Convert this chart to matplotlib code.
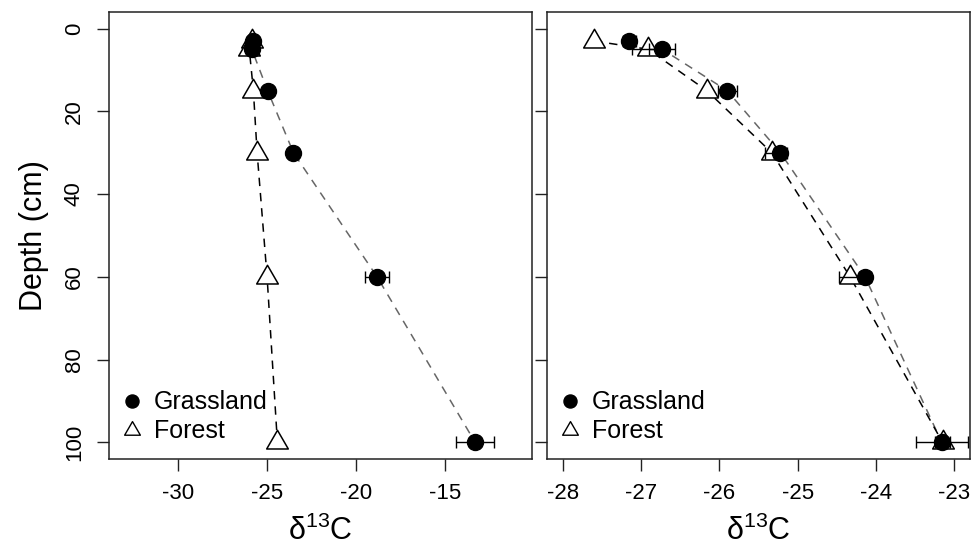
import numpy as np
import matplotlib
matplotlib.use("Agg")
import matplotlib.pyplot as plt
from matplotlib.lines import Line2D
from matplotlib.path import Path

plt.rcParams["font.family"] = ["Liberation Sans", "DejaVu Sans"]
plt.rcParams["mathtext.fontset"] = "custom"
plt.rcParams["mathtext.rm"] = "Liberation Sans"
plt.rcParams["mathtext.it"] = "Liberation Sans:italic"
plt.rcParams["axes.unicode_minus"] = False

# depth of each sample (cm)
depth = [3, 5, 15, 30, 60, 100]

# left panel
grass_a = [-25.77, -25.86, -24.97, -23.52, -18.82, -13.31]
grass_a_err = [0.2, 0.2, 0.2, 0.25, 0.68, 1.07]
forest_a = [-25.86, -26.0, -25.77, -25.56, -25.0, -24.42]
forest_a_err = [0, 0, 0, 0, 0, 0]

# right panel
grass_b = [-27.15, -26.73, -25.90, -25.22, -24.14, -23.16]
grass_b_err = [0.08, 0.17, 0.12, 0.08, 0.08, 0.33]
forest_b = [-27.60, -26.91, -26.16, -25.33, -24.33, -23.15]
forest_b_err = [0, 0.2, 0, 0.09, 0.14, 0.1]

panels = [
    (grass_a, grass_a_err, forest_a, forest_a_err, (-33, -11), [-30, -25, -20, -15]),
    (grass_b, grass_b_err, forest_b, forest_b_err, (-28, -23), [-28, -27, -26, -25, -24, -23]),
]

# R-like open triangle (equilateral, closed path)
tri = Path([(-1, -0.6), (1, -0.6), (0, 1.13), (-1, -0.6)],
           [Path.MOVETO, Path.LINETO, Path.LINETO, Path.CLOSEPOLY])

fig = plt.figure(figsize=(9.74, 5.47), dpi=100)
lefts = [109 / 974, 547 / 974]
W = 423 / 974
B = 1 - 459 / 547
H = 447 / 547

for i, (g, ge, f, fe, xl, xt) in enumerate(panels):
    ax = fig.add_axes([lefts[i], B, W, H])
    ax.plot(g, depth, color="#666666", lw=1.1, dashes=(5.5, 4.5), zorder=1)
    ax.plot(f, depth, color="black", lw=1.1, dashes=(5.5, 4.5), zorder=1)
    ax.plot(f, depth, linestyle="none", marker=tri, ms=17.6, mfc="white",
            mec="black", mew=1.1, zorder=2)
    for x, e, d in zip(f, fe, depth):
        if e > 0:
            ax.errorbar(x, d, xerr=e, fmt="none", ecolor="black", elinewidth=1,
                        capsize=4.5, capthick=1, zorder=3)
    for x, e, d in zip(g, ge, depth):
        if e > 0:
            ax.errorbar(x, d, xerr=e, fmt="none", ecolor="black", elinewidth=1,
                        capsize=4.5, capthick=1, zorder=3)
    ax.plot(g, depth, linestyle="none", marker="o", ms=11.5, mfc="black",
            mec="black", zorder=4)

    pad = 0.04 * (xl[1] - xl[0])
    ax.set_xlim(xl[0] - pad, xl[1] + pad)
    ax.set_ylim(104, -4)
    ax.set_xticks(xt)
    ax.set_yticks([0, 20, 40, 60, 80, 100])
    ax.tick_params(length=8.4, width=1, labelsize=16, pad=9, color="#222222")
    for s in ax.spines.values():
        s.set_linewidth(1.1)
        s.set_color("#222222")
    if i == 0:
        ax.set_yticklabels(["0", "20", "40", "60", "80", "100"], rotation=90, va="center")
        ax.set_ylabel("Depth (cm)", fontsize=22, labelpad=11)
    else:
        ax.set_yticklabels([])
    ax.set_xlabel(r"$\mathregular{\delta^{13}C}$", fontsize=22, labelpad=8)

    handles = [
        Line2D([], [], linestyle="none", marker="o", ms=9.4, mfc="black", mec="black"),
        Line2D([], [], linestyle="none", marker=tri, ms=12.8, mfc="white", mec="black", mew=1),
    ]
    ax.legend(handles, ["Grassland", "Forest"], loc="lower left",
              bbox_to_anchor=(0.026, 0.035), frameon=False, fontsize=18,
              borderpad=0, borderaxespad=0, handlelength=1.0,
              handletextpad=0.36, labelspacing=0.2)

fig.savefig("out.png", dpi=100)
